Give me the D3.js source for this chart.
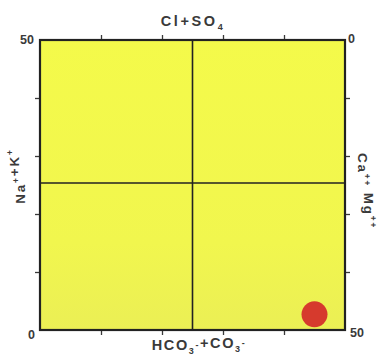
<!DOCTYPE html>
<html>
<head>
<meta charset="utf-8">
<script src="https://cdn.jsdelivr.net/npm/d3@7"></script>
<style>
  html, body { margin: 0; padding: 0; background: #fff; }
  svg { display: block; }
  .lbl { font-family: "Liberation Sans", Arial, sans-serif; font-weight: bold; fill: #3a3a3a; }
</style>
</head>
<body>
<div id="viz"></div>
<script>
// Square ion diagram — anions on top/bottom, cations on left/right

const TICK_VALUES = [10, 20, 30, 40];
const AXIS_MAX = 50;

// one sample point: HCO3+CO3 (bottom axis) and Na+K (left axis), in %
const SAMPLE_HCO3 = [45];
const SAMPLE_NAK = [2.7];

const END_LABELS = [
  { text: "50", corner: "tl" },
  { text: "0",  corner: "tr" },
  { text: "0",  corner: "bl" },
  { text: "50", corner: "br" }
];

// axis titles as segments (sup / sub markers)
const TITLE_TOP = [{ t: "Cl" }, { t: "+" }, { t: "SO" }, { t: "4", sub: true }];
const TITLE_BOTTOM = [{ t: "HCO" }, { t: "3", sub: true }, { t: "-", sup: true }, { t: "+" }, { t: "CO" }, { t: "3", sub: true }, { t: "-", sup: true }];
const TITLE_LEFT = [{ t: "Na" }, { t: "+", sup: true }, { t: "+" }, { t: "K" }, { t: "+", sup: true }];
const TITLE_RIGHT = [{ t: "Ca" }, { t: "++", sup: true }, { t: " " }, { t: "Mg" }, { t: "++", sup: true }];

const W = 378, H = 363;
const mLeft = 40, mRight = 345, mTop = 40, mBottom = 330;

const svg = d3.select("#viz").append("svg")
  .attr("width", W).attr("height", H)
  .attr("viewBox", `0 0 ${W} ${H}`);

const grad = svg.append("defs").append("linearGradient")
  .attr("id", "field").attr("x1", 0).attr("y1", 0).attr("x2", 0).attr("y2", 1);
grad.append("stop").attr("offset", "0").attr("stop-color", "#f4fa4a");
grad.append("stop").attr("offset", "0.7").attr("stop-color", "#f1f64e");
grad.append("stop").attr("offset", "1").attr("stop-color", "#ebef55");

const xBottom = d3.scaleLinear().domain([0, AXIS_MAX]).range([mLeft, mRight]);
const xTop = d3.scaleLinear().domain([AXIS_MAX, 0]).range([mLeft, mRight]);
const yLeft = d3.scaleLinear().domain([0, AXIS_MAX]).range([mBottom, mTop]);
const yRight = d3.scaleLinear().domain([0, AXIS_MAX]).range([mTop, mBottom]);

// field
svg.append("rect")
  .attr("x", mLeft).attr("y", mTop)
  .attr("width", mRight - mLeft).attr("height", mBottom - mTop)
  .attr("fill", "url(#field)");

// ticks (outward, no labels)
function ticks(axis, tx, ty){
  const g = svg.append("g")
    .attr("transform", `translate(${tx},${ty})`)
    .call(axis.tickValues(TICK_VALUES).tickSize(5).tickFormat(""));
  g.select(".domain").remove();
  g.selectAll(".tick line").attr("stroke", "#3a3a3a").attr("stroke-width", 1.3);
}
ticks(d3.axisTop(xTop), 0, mTop);
ticks(d3.axisBottom(xBottom), 0, mBottom);
ticks(d3.axisLeft(yLeft), mLeft, 0);
ticks(d3.axisRight(yRight), mRight, 0);

// centre cross
svg.append("line")
  .attr("x1", xBottom(AXIS_MAX / 2)).attr("x2", xBottom(AXIS_MAX / 2))
  .attr("y1", mTop).attr("y2", mBottom)
  .attr("stroke", "#222").attr("stroke-width", 1.6);
svg.append("line")
  .attr("x1", mLeft).attr("x2", mRight)
  .attr("y1", yLeft(AXIS_MAX / 2) - 2).attr("y2", yLeft(AXIS_MAX / 2) - 2)
  .attr("stroke", "#222").attr("stroke-width", 1.6);

// border
svg.append("rect")
  .attr("x", mLeft).attr("y", mTop)
  .attr("width", mRight - mLeft).attr("height", mBottom - mTop)
  .attr("fill", "none")
  .attr("stroke", "#222").attr("stroke-width", 2.2);

// sample
svg.selectAll("circle.sample")
  .data(SAMPLE_HCO3.map((v, i) => ({ x: v, y: SAMPLE_NAK[i] })))
  .enter().append("circle")
  .attr("class", "sample")
  .attr("cx", d => xBottom(d.x))
  .attr("cy", d => yLeft(d.y))
  .attr("r", 13)
  .attr("fill", "#d63a2d");

// corner labels
const cornerPos = {
  tl: { x: mLeft - 6, y: mTop + 4, a: "end" },
  tr: { x: mRight + 3, y: mTop + 3, a: "start" },
  bl: { x: mLeft - 5, y: mBottom + 9, a: "end" },
  br: { x: mRight + 5, y: mBottom + 7, a: "start" }
};
svg.selectAll("text.end")
  .data(END_LABELS)
  .enter().append("text")
  .attr("class", "lbl end")
  .attr("x", d => cornerPos[d.corner].x)
  .attr("y", d => cornerPos[d.corner].y)
  .attr("text-anchor", d => cornerPos[d.corner].a)
  .attr("font-size", 12.5)
  .attr("fill", "#4a4a4a")
  .text(d => d.text);

// axis titles
function title(segs, x, y, rot, size, spacing){
  const t = svg.append("text")
    .attr("class", "lbl")
    .attr("text-anchor", "middle")
    .attr("font-size", size)
    .attr("letter-spacing", spacing)
    .attr("transform", `translate(${x},${y}) rotate(${rot})`);
  segs.forEach(s => {
    const sp = t.append("tspan").text(s.t);
    if (s.sub) sp.attr("font-size", size * 0.62).attr("dy", 4);
    else if (s.sup) sp.attr("font-size", size * 0.62).attr("dy", -6);
    if (s.sub) t.append("tspan").attr("dy", -4).text("");
    if (s.sup) t.append("tspan").attr("dy", 6).text("");
  });
}
title(TITLE_TOP, 193, 26, 0, 14.5, 2.6);
title(TITLE_BOTTOM, 199, 350, 0, 14.5, 1.6);
title(TITLE_LEFT, 25, 176, -90, 13.5, 1.8);
title(TITLE_RIGHT, 358, 191, 90, 13.5, 1.8);
</script>
</body>
</html>
